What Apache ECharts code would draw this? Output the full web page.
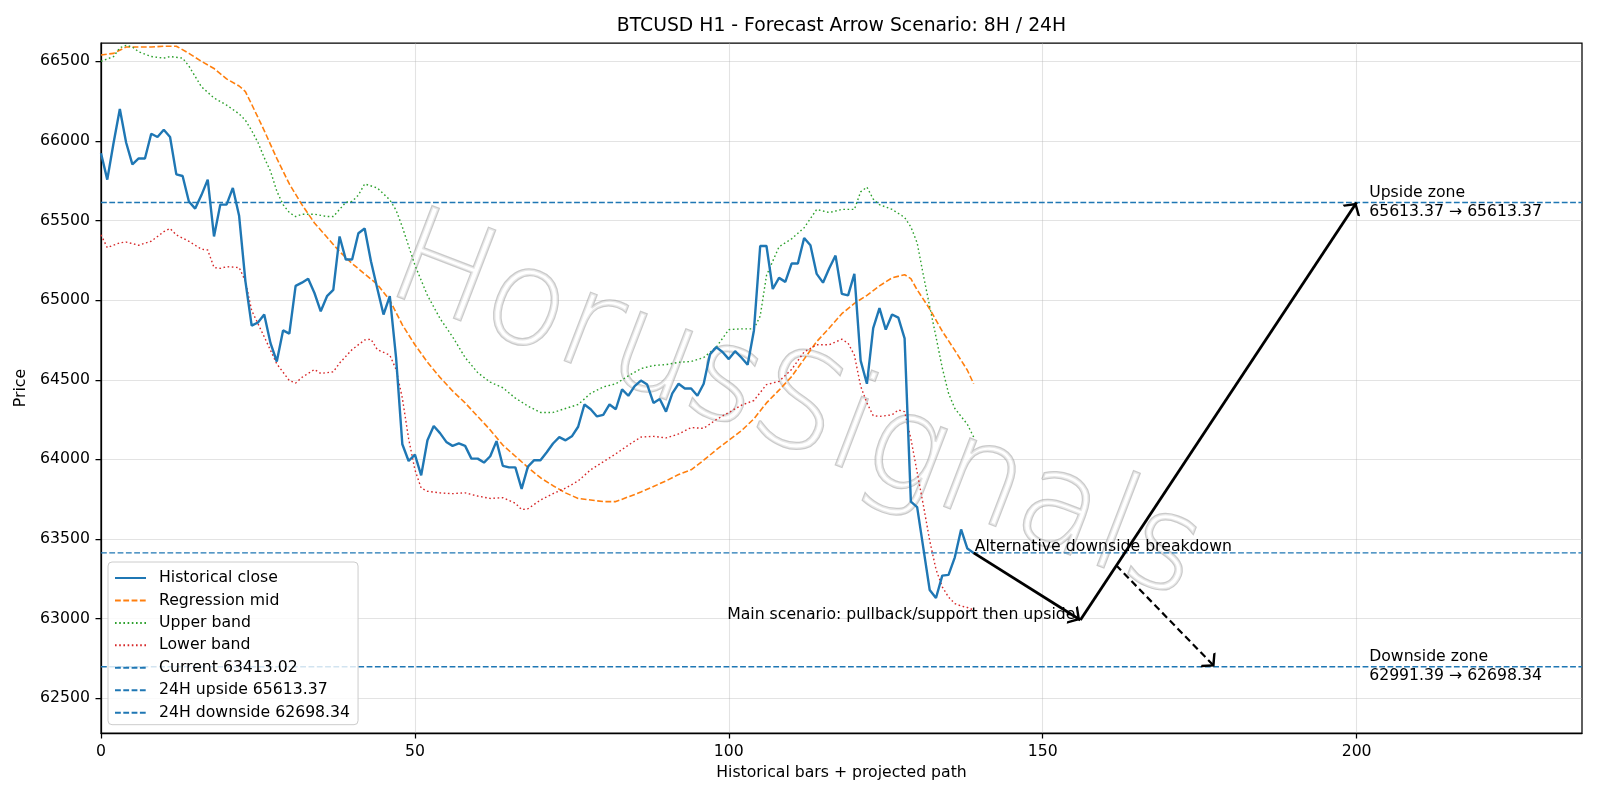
<!DOCTYPE html>
<html><head><meta charset="utf-8">
<script src="https://cdn.jsdelivr.net/npm/echarts@6/dist/echarts.min.js"></script>
<style>html,body{margin:0;padding:0;background:#fff}#c{width:1600px;height:800px}</style>
</head><body><div id="c"></div>
<script>
// ---------------- data ----------------
const titleText = 'BTCUSD H1 - Forecast Arrow Scenario: 8H / 24H';
const closeValues = [
  65923, 65757, 65987, 66200, 65990, 65853, 65890, 65890, 66045, 66025,
  66070, 66025, 65790, 65780, 65620, 65575, 65660, 65757, 65400, 65600,
  65600, 65705, 65530, 65120, 64840, 64860, 64910, 64730, 64615, 64810,
  64790, 65090, 65110, 65135, 65045, 64930, 65025, 65065, 65400, 65255,
  65255, 65420, 65450, 65245, 65075, 64910, 65025, 64640, 64095, 63990,
  64030, 63900, 64120, 64210, 64165, 64110, 64085, 64100, 64085, 64005,
  64005, 63980, 64020, 64115, 63960, 63950, 63950, 63815, 63955, 63995,
  63995, 64045, 64100, 64140, 64120, 64145, 64205, 64345, 64315, 64270,
  64280, 64345, 64315, 64440, 64400, 64460, 64495, 64470, 64355, 64380,
  64300, 64415, 64475, 64445, 64445, 64400, 64475, 64660, 64705, 64675,
  64630, 64680, 64640, 64595, 64810, 65340, 65340, 65070, 65140, 65115,
  65230, 65230, 65390, 65345, 65165, 65110, 65200, 65280, 65040, 65030,
  65165, 64620, 64475, 64825, 64950, 64815, 64910, 64890, 64760, 63735,
  63700, 63440, 63180, 63130, 63270, 63275, 63385, 63560, 63440, 63413.02
];
const midX = [0,2,4,6,8,10,12,14,16,18,20,22,23,24,26,28,30,32,34,36,38,40,42,44,46,48,50,52,54,56,58,60,62,64,66,68,70,72,74,76,78,80,82,84,86,88,90,92,94,96,98,100,102,104,106,108,110,112,114,116,118,120,122,124,126,128,129,130,132,134,136,138,139];
const midY = [66540,66550,66590,66590,66590,66595,66595,66550,66500,66455,66390,66345,66310,66230,66065,65890,65730,65600,65485,65395,65305,65230,65165,65100,65000,64845,64720,64610,64515,64430,64355,64270,64185,64090,64020,63950,63885,63835,63790,63755,63745,63735,63735,63765,63795,63830,63865,63905,63935,63995,64060,64120,64180,64255,64355,64435,64520,64630,64740,64825,64915,64980,65030,65090,65140,65160,65135,65065,64945,64805,64685,64560,64475];
const upperX = [0,2,3,4,5,6,8,10,11,13,14,16,18,20,22,23,24,25,26,27,28,29,30,31,32,34,36,37,38,39,40,41,42,44,46,47,48,50,52,54,56,58,60,62,64,66,68,70,72,74,76,78,80,82,84,86,88,90,92,94,96,98,100,102,104,105,106,107,108,110,112,114,116,118,120,121,122,123,124,126,128,129,130,131,132,133,134,135,136,137,138,139];
const upperY = [66500,66530,66585,66600,66590,66560,66530,66520,66530,66520,66470,66340,66270,66225,66170,66130,66065,65990,65895,65810,65685,65600,65550,65525,65540,65540,65525,65525,65570,65615,65620,65660,65730,65705,65630,65565,65460,65220,65030,64885,64770,64640,64545,64485,64450,64385,64335,64295,64295,64320,64345,64415,64455,64475,64525,64570,64590,64595,64610,64615,64640,64705,64815,64820,64820,64900,65155,65245,65335,65385,65455,65570,65550,65570,65570,65680,65710,65635,65600,65570,65520,65460,65360,65155,64960,64770,64575,64415,64320,64270,64220,64140];
const lowerX = [0,1,3,4,6,8,10,11,12,14,16,17,18,19,20,22,23,24,26,28,30,31,32,34,35,37,38,40,42,43,44,46,47,48,49,50,51,52,54,56,58,60,62,64,66,67,68,70,72,74,76,78,80,82,84,86,88,90,92,94,96,98,100,102,104,106,108,110,112,114,116,118,119,120,121,122,123,124,126,127,128,129,130,131,132,133,134,135,136,137,138,139];
const lowerY = [65410,65330,65360,65365,65345,65370,65430,65450,65410,65370,65320,65315,65205,65200,65210,65205,65120,64935,64770,64600,64495,64480,64515,64565,64540,64550,64605,64690,64750,64755,64690,64655,64565,64385,64130,63935,63820,63800,63790,63785,63790,63770,63755,63760,63725,63685,63690,63745,63785,63820,63865,63935,63985,64035,64090,64140,64145,64135,64160,64200,64195,64250,64295,64340,64370,64470,64490,64565,64675,64720,64720,64755,64730,64655,64460,64355,64275,64270,64280,64310,64300,64130,63920,63710,63490,63310,63200,63135,63095,63080,63070,63055];
const currentLevel = 63413.02;
const upsideLevel = 65613.37;
const downsideLevel = 62698.34;
const pullbackLevel = 62991.39;
const mainPathX = [139, 156, 200];
const mainPathY = [currentLevel, pullbackLevel, upsideLevel];
const altArrowX = [161.7, 177.4];
const altArrowY = [63335, downsideLevel];
const zoneLabelX = 202;
const xTicks = [0, 50, 100, 150, 200];
const yTicks = [62500, 63000, 63500, 64000, 64500, 65000, 65500, 66000, 66500];
const xRange = [0, 235.9];
const yRange = [62282, 66615];
const mainText = 'Main scenario: pullback/support then upside';
const altText = 'Alternative downside breakdown';
const watermark = 'HorusSignals';

// ---------------- chart ----------------
const FONT = '"DejaVu Sans", Verdana, sans-serif';
const FS = 15.7;
const BLUE = '#1f77b4', ORANGE = '#ff7f0e', GREEN = '#2ca02c', RED = '#d62728';
const DASH = [5.8, 2.5];
const DOT = [1.6, 2.6];
const chevron = 'path://M0,-1 L0.05,-0.95 L-0.05,-0.95 Z M0,10 L-6.5,19.5 L-5,20.5 L0,13.4 L5,20.5 L6.5,19.5 Z';
const f2 = v => v.toFixed(2);
const pairs = (xs, ys) => xs.map((x, i) => [x, ys[i]]);

const hline = (name, v) => ({
  name, type: 'line', data: [[xRange[0], v], [xRange[1], v]], symbol: 'none',
  lineStyle: { color: BLUE, width: 1.4, type: DASH }, itemStyle: { color: BLUE }, z: 3
});

const arrowSeries = (xs, ys, dashed, width) => ({
  type: 'lines', coordinateSystem: 'cartesian2d', polyline: false, silent: true, z: 8,
  symbol: ['none', chevron], symbolSize: [13, 21],
  lineStyle: { color: '#000', width, type: dashed ? [7, 4] : 'solid', opacity: 1 },
  data: xs.slice(0, -1).map((x, i) => ({ coords: [[x, ys[i]], [xs[i + 1], ys[i + 1]]] }))
});

const option = {
  animation: false,
  backgroundColor: '#fff',
  textStyle: { fontFamily: FONT },
  title: {
    text: titleText, left: 841.5, top: 17, textAlign: 'center', padding: 0,
    textStyle: { fontFamily: FONT, fontSize: 18.8, fontWeight: 'normal', color: '#000' }
  },
  grid: { left: 101, right: 18, top: 43, bottom: 67, show: true, borderColor: '#000', borderWidth: 1.25, backgroundColor: 'rgba(0,0,0,0)' },
  legend: {
    orient: 'vertical', left: 108, top: 562, padding: [8, 8, 4, 6],
    itemWidth: 31, itemHeight: 14, itemGap: 6.45,
    itemStyle: { opacity: 0, borderWidth: 0 },
    backgroundColor: 'rgba(255,255,255,0.8)', borderColor: '#cccccc', borderWidth: 1, borderRadius: 4,
    textStyle: { fontFamily: FONT, fontSize: FS, color: '#000', lineHeight: 16, padding: [0, 0, 0, 8] },
    data: ['Historical close', 'Regression mid', 'Upper band', 'Lower band',
      'Current ' + f2(currentLevel), '24H upside ' + f2(upsideLevel), '24H downside ' + f2(downsideLevel)]
  },
  xAxis: {
    type: 'value', min: xRange[0], max: xRange[1],
    name: 'Historical bars + projected path', nameLocation: 'middle', nameGap: 32,
    nameTextStyle: { fontFamily: FONT, fontSize: FS, color: '#000' },
    axisLine: { show: true, lineStyle: { color: '#000', width: 1.25 } },
    axisTick: { show: true, length: 5.5, customValues: xTicks, lineStyle: { color: '#000', width: 1.25 } },
    axisLabel: { customValues: xTicks, margin: 11, color: '#000', fontFamily: FONT, fontSize: FS, formatter: v => String(v) },
    splitLine: { show: true, lineStyle: { color: 'rgba(176,176,176,0.35)', width: 1.1 } }
  },
  yAxis: {
    type: 'value', min: yRange[0], max: yRange[1],
    name: 'Price', nameLocation: 'middle', nameGap: 57, nameRotate: 90,
    nameTextStyle: { fontFamily: FONT, fontSize: FS, color: '#000' },
    axisLine: { show: true, lineStyle: { color: '#000', width: 1.25 } },
    axisTick: { show: true, length: 5.5, customValues: yTicks, lineStyle: { color: '#000', width: 1.25 } },
    axisLabel: { customValues: yTicks, margin: 11, color: '#000', fontFamily: FONT, fontSize: FS, formatter: v => String(v) },
    splitLine: { show: true, lineStyle: { color: 'rgba(176,176,176,0.35)', width: 1.1 } }
  },
  graphic: [{
    id: 'wm', type: 'text', x: 795, y: 412, rotation: -21 * Math.PI / 180, silent: true, z: 1,
    style: {
      text: watermark, fontFamily: '"DejaVu Sans"', fontSize: 132, fontWeight: 200,
      align: 'center', verticalAlign: 'middle',
      fill: 'rgba(255,255,255,0.55)', stroke: 'rgba(150,150,150,0.5)', lineWidth: 2.5,
      shadowColor: 'rgba(0,0,0,0.18)', shadowBlur: 2, shadowOffsetX: 4, shadowOffsetY: 4
    }
  }],
  series: [
    { name: 'Historical close', type: 'line', data: closeValues.map((v, i) => [i, v]), symbol: 'none',
      lineStyle: { color: BLUE, width: 2.4 }, itemStyle: { color: BLUE }, z: 6 },
    { name: 'Regression mid', type: 'line', data: pairs(midX, midY), symbol: 'none',
      lineStyle: { color: ORANGE, width: 1.6, type: DASH }, itemStyle: { color: ORANGE }, z: 5 },
    { name: 'Upper band', type: 'line', data: pairs(upperX, upperY), symbol: 'none',
      lineStyle: { color: GREEN, width: 1.4, type: DOT }, itemStyle: { color: GREEN }, z: 5 },
    { name: 'Lower band', type: 'line', data: pairs(lowerX, lowerY), symbol: 'none',
      lineStyle: { color: RED, width: 1.4, type: DOT }, itemStyle: { color: RED }, z: 5 },
    hline('Current ' + f2(currentLevel), currentLevel),
    hline('24H upside ' + f2(upsideLevel), upsideLevel),
    hline('24H downside ' + f2(downsideLevel), downsideLevel),
    arrowSeries(mainPathX, mainPathY, false, 2.8),
    arrowSeries(altArrowX, altArrowY, true, 2.2)
  ]
};

const chart = echarts.init(document.getElementById('c'), null, { renderer: 'canvas' });
chart.setOption(option);

// annotation texts, placed through the chart's own scales
const px = (x, y) => chart.convertToPixel({ gridIndex: 0 }, [x, y]);
const txt = (id, p, text, align, vAlign) => ({
  id, type: 'text', x: p[0], y: p[1], silent: true, z: 20,
  style: { text, fill: '#000', fontFamily: FONT, fontSize: FS, lineHeight: 18.8, align, verticalAlign: vAlign }
});
const pUp = px(zoneLabelX, upsideLevel);
const pDown = px(zoneLabelX, downsideLevel);
const pMain = px(mainPathX[1], mainPathY[1]);
const pAlt = px(mainPathX[0], mainPathY[0]);
chart.setOption({
  graphic: [
    txt('up', pUp, 'Upside zone\n' + f2(upsideLevel) + ' \u2192 ' + f2(upsideLevel), 'left', 'middle'),
    txt('down', pDown, 'Downside zone\n' + f2(pullbackLevel) + ' \u2192 ' + f2(downsideLevel), 'left', 'middle'),
    txt('main', [pMain[0] - 5, pMain[1] - 5.6], mainText, 'right', 'middle'),
    txt('alt', [pAlt[0] + 1, pAlt[1] - 5.6], altText, 'left', 'middle')
  ]
});
</script></body></html>
